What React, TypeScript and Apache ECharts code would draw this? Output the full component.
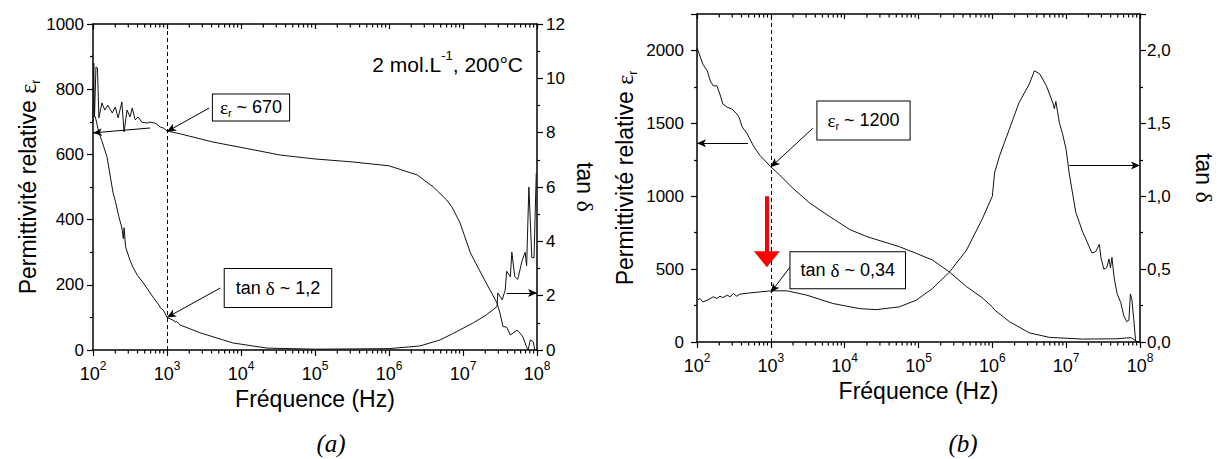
import React, { useEffect, useRef } from 'react';
import * as echarts from 'echarts';

// ---------- Panel (a): 2 mol.L-1, 200°C ----------
// frequency given as log10(f)
const aEpsExp = [2.00, 2.01, 2.02, 2.04, 2.06, 2.08, 2.12, 2.16, 2.20, 2.26, 2.30, 2.34, 2.39, 2.42, 2.46, 2.50, 2.53, 2.57, 2.61, 2.66, 2.73, 2.77, 2.84, 2.91, 2.95, 3.00, 3.18, 3.62, 4.08, 4.53, 5.00, 5.50, 6.00, 6.38, 6.60, 6.78, 6.85, 6.96, 7.10, 7.27, 7.46, 7.50, 7.54, 7.59, 7.64, 7.73, 7.77, 7.81, 7.86, 7.88, 7.91, 7.95, 7.97, 8.00];
const aEpsVal = [700, 880, 715, 868, 865, 712, 758, 736, 751, 727, 745, 712, 761, 669, 736, 715, 742, 706, 715, 699, 696, 699, 696, 684, 681, 672, 663, 638, 618, 598, 586, 577, 565, 537, 500, 460, 439, 390, 298, 224, 144, 113, 72, 70, 46, 61, 52, 40, 9, 0, 31, 25, 0, 0];

const aTanExp = [2.03, 2.08, 2.12, 2.19, 2.27, 2.30, 2.35, 2.39, 2.41, 2.42, 2.44, 2.50, 2.54, 2.60, 2.68, 2.81, 2.90, 2.91, 2.95, 3.00, 3.08, 3.12, 3.13, 3.18, 3.45, 3.89, 4.35, 5.00, 6.00, 6.42, 6.69, 6.86, 7.14, 7.32, 7.46, 7.47, 7.53, 7.57, 7.59, 7.64, 7.66, 7.70, 7.74, 7.80, 7.84, 7.86, 7.89, 7.93, 7.96, 7.99];
const aTanVal = [8.6, 8.0, 7.7, 7.1, 5.8, 5.5, 4.9, 4.5, 4.1, 4.5, 3.8, 3.3, 3.05, 2.75, 2.47, 1.95, 1.62, 1.55, 1.47, 1.2, 1.1, 1.02, 1.05, 0.92, 0.63, 0.26, 0.07, 0.03, 0.05, 0.15, 0.37, 0.6, 1.0, 1.3, 1.6, 2.1, 1.85, 2.2, 2.9, 2.7, 3.6, 2.7, 2.6, 3.3, 3.6, 3.1, 6.0, 3.4, 3.4, 6.5];

// ---------- Panel (b) ----------
const bEpsExp = [2.00, 2.04, 2.08, 2.14, 2.18, 2.22, 2.27, 2.31, 2.35, 2.41, 2.47, 2.54, 2.57, 2.61, 2.68, 2.76, 2.85, 3.00, 3.12, 3.30, 3.53, 3.76, 4.07, 4.30, 4.74, 4.97, 5.19, 5.42, 5.65, 5.86, 6.00, 6.03, 6.23, 6.50, 6.77, 7.22, 7.68, 7.88, 7.95, 8.00];
const bEpsVal = [2020, 1961, 1905, 1859, 1791, 1757, 1757, 1701, 1633, 1610, 1599, 1565, 1542, 1478, 1428, 1349, 1281, 1202, 1145, 1054, 952, 873, 771, 723, 654, 608, 562, 480, 380, 305, 240, 220, 140, 63, 32, 20, 22, 30, 5, 0];

const bTanExp = [2.00, 2.04, 2.08, 2.14, 2.22, 2.27, 2.31, 2.35, 2.41, 2.45, 2.49, 2.54, 2.58, 2.72, 3.00, 3.22, 3.49, 3.84, 4.20, 4.43, 4.74, 4.97, 5.19, 5.42, 5.65, 5.86, 6.00, 6.03, 6.10, 6.23, 6.36, 6.50, 6.57, 6.64, 6.73, 6.82, 6.84, 6.86, 6.88, 6.91, 6.95, 7.00, 7.04, 7.13, 7.22, 7.35, 7.40, 7.45, 7.47, 7.51, 7.55, 7.58, 7.60, 7.62, 7.65, 7.69, 7.74, 7.78, 7.82, 7.85, 7.87, 7.89, 7.92, 7.94, 7.96, 8.00];
const bTanVal = [0.287, 0.298, 0.275, 0.287, 0.31, 0.298, 0.314, 0.305, 0.321, 0.31, 0.333, 0.314, 0.328, 0.337, 0.351, 0.351, 0.321, 0.264, 0.229, 0.222, 0.241, 0.287, 0.367, 0.48, 0.63, 0.84, 1.0, 1.16, 1.28, 1.46, 1.64, 1.77, 1.86, 1.84, 1.76, 1.64, 1.6, 1.65, 1.59, 1.5, 1.43, 1.32, 1.16, 0.89, 0.76, 0.61, 0.62, 0.67, 0.58, 0.5, 0.51, 0.57, 0.51, 0.58, 0.44, 0.33, 0.27, 0.18, 0.14, 0.15, 0.33, 0.29, 0.13, 0.01, 0.0, 0.0];

// ---------- Axis ranges / ticks ----------
const freqMin = 1e2;
const freqMax = 1e8;
const aEpsRange = [0, 1000, 200];
const aTanRange = [0, 12, 2];
const bEpsRange = [0, 2250, 500];
const bTanRange = [0, 2.25, 0.5];
const decades = [2, 3, 4, 5, 6, 7];
const minorMultipliers = [2, 3, 4, 5, 6, 7, 8, 9];

// ---------- Annotations (data coordinates) ----------
const markFreq = 1000; // dashed line at 10^3
const aEpsNote = { text: '670', box: [13650, 744], from: [3700, 742], to: [1000, 670] };
const aTanNote = { text: '1,2', box: [31600, 2.28], from: [5250, 2.28], to: [1000, 1.2] };
const aEpsAxisArrow = [[590, 681], [100, 666]];
const aTanAxisArrow = [[3.9e7, 2.1], [1e8, 2.1]];
const bEpsNote = { text: '1200', box: [18000, 1520], from: [3700, 1466], to: [1000, 1200] };
const bTanNote = { text: '0,34', box: [11000, 0.493], from: [1820, 0.514], to: [1000, 0.34] };
const bEpsAxisArrow = [[490, 1363], [100, 1363]];
const bTanAxisArrow = [[1.1e7, 1.21], [1e8, 1.21]];
const redArrow = [[884, 1000], [884, 568]];

const SANS = '"Liberation Sans", Arial, Helvetica, sans-serif';
const SERIF = '"Liberation Serif", "Times New Roman", serif';

const toPts = (exp: number[], val: number[]) => exp.map((e, i) => [Math.pow(10, e), val[i]]);

const minorFreqs: number[] = [];
decades.forEach((d) => minorMultipliers.forEach((m) => minorFreqs.push(m * Math.pow(10, d))));

const axisLineStyle = { color: '#000', width: 1.5 };

const xRich = {
  b: { fontSize: 18, fontFamily: SANS, color: '#000', lineHeight: 23, verticalAlign: 'bottom' },
  s: { fontSize: 12, fontFamily: SANS, color: '#000', lineHeight: 12, verticalAlign: 'top' },
};

const makeXAxes = (grid: number) => [
  {
    type: 'log', logBase: 10, gridIndex: grid, min: freqMin, max: freqMax, position: 'bottom',
    axisLine: { show: true, onZero: false, lineStyle: axisLineStyle },
    axisTick: { show: true, inside: false, length: 6, lineStyle: { color: '#000', width: 1.2 } },
    axisLabel: {
      margin: 10,
      formatter: (v: number) => `{b|10}{s|${Math.round(Math.log10(v))}}`,
      rich: xRich,
    },
    splitLine: { show: false },
    name: 'Fréquence (Hz)', nameLocation: 'middle', nameGap: 36,
    nameTextStyle: { fontFamily: SANS, fontSize: 23, color: '#000' },
  },
  {
    type: 'log', logBase: 10, gridIndex: grid, min: freqMin, max: freqMax, position: 'top',
    axisLine: { show: true, onZero: false, lineStyle: axisLineStyle },
    axisTick: { show: true, inside: true, length: 5, lineStyle: { color: '#000', width: 1.2 } },
    axisLabel: { show: false },
    splitLine: { show: false },
  },
];

const epsName = '{t|Permittivité relative }{e|ε}{r|r}';
const epsNameRich = {
  t: { fontFamily: SANS, fontSize: 23, color: '#000', lineHeight: 28 },
  e: { fontFamily: SERIF, fontSize: 24, color: '#000', lineHeight: 28 },
  r: { fontFamily: SANS, fontSize: 12, color: '#000', lineHeight: 12, verticalAlign: 'bottom' },
};
const tanName = '{t|tan }{d|δ}';
const tanNameRich = {
  t: { fontFamily: SANS, fontSize: 23, color: '#000' },
  d: { fontFamily: SERIF, fontSize: 24, color: '#000' },
};

const makeYAxis = (grid: number, range: number[], pos: string, opts: any) => ({
  type: 'value', gridIndex: grid, min: range[0], max: range[1], interval: range[2], position: pos,
  axisLine: { show: true, onZero: false, lineStyle: axisLineStyle },
  axisTick: { show: true, inside: false, length: 6, lineStyle: { color: '#000', width: 1.2 } },
  minorTick: { show: true, splitNumber: 2, length: 3, lineStyle: { color: '#000', width: 1.2 } },
  splitLine: { show: false },
  axisLabel: {
    fontFamily: SANS, fontSize: 17, color: '#000', margin: opts.margin, showMaxLabel: opts.showMax,
    formatter: opts.formatter || ((v: number) => String(v)),
  },
  name: opts.name, nameLocation: 'middle', nameGap: opts.nameGap, nameRotate: opts.nameRotate,
  nameTextStyle: { rich: opts.rich },
});

const noteLabelRich = {
  e: { fontFamily: SERIF, fontSize: 19, color: '#000', lineHeight: 22 },
  r: { fontFamily: SANS, fontSize: 11, color: '#000', lineHeight: 11, verticalAlign: 'bottom' },
  t: { fontFamily: SANS, fontSize: 18, color: '#000', lineHeight: 22 },
  d: { fontFamily: SERIF, fontSize: 19, color: '#000', lineHeight: 22 },
};

const boxPoint = (coord: number[], text: string, padding: number[]) => ({
  coord,
  value: 0,
  label: {
    show: true, position: 'inside',
    formatter: () => text,
    rich: noteLabelRich,
    backgroundColor: '#fff', borderColor: '#000', borderWidth: 1, padding,
  },
});

const arrowLine = (from: number[], to: number[], size: number[] = [6, 9], color = '#000', width = 1, symbol = 'arrow') => [
  { coord: from, symbol: 'none', lineStyle: { color, width, type: 'solid' } },
  { coord: to, symbol, symbolSize: size },
];

const markLineBase = {
  silent: true, animation: false,
  symbol: ['none', 'none'],
  label: { show: false },
  emphasis: { disabled: true },
  lineStyle: { color: '#000', width: 1, type: 'solid' },
};

const dashed = { xAxis: markFreq, lineStyle: { color: '#000', width: 1, type: [4, 3] } };

const lineSeries = (name: string, xi: number, yi: number, pts: number[][], markLine: any, markPoint: any) => ({
  type: 'line', name, xAxisIndex: xi, yAxisIndex: yi, data: pts,
  showSymbol: false, symbol: 'none', silent: true,
  lineStyle: { color: '#111', width: 1 },
  markLine: markLine ? { ...markLineBase, data: markLine } : undefined,
  markPoint: markPoint ? {
    silent: true, symbol: 'rect', symbolSize: 1, itemStyle: { color: 'rgba(0,0,0,0)' }, data: markPoint,
  } : undefined,
});

const minorTickSeries = (xi: number, yi: number, yMin: number, yMax: number) => ({
  type: 'custom', xAxisIndex: xi, yAxisIndex: yi, silent: true, clip: false,
  data: minorFreqs.map((f) => [f, yMin]),
  encode: { x: 0, y: 1 },
  renderItem: (_p: any, api: any) => {
    const f = api.value(0);
    const b = api.coord([f, yMin]);
    const t = api.coord([f, yMax]);
    const st = { stroke: '#000', lineWidth: 1.2 };
    return {
      type: 'group',
      children: [
        { type: 'line', shape: { x1: b[0], y1: b[1], x2: b[0], y2: b[1] + 3.5 }, style: st },
        { type: 'line', shape: { x1: t[0], y1: t[1], x2: t[0], y2: t[1] + 3.5 }, style: st },
      ],
    };
  },
});

const epsText = (v: string) => `{e|ε}{r|r}{t| ~ ${v}}`;
const tanText = (v: string) => `{t|tan }{d|δ}{t| ~ ${v}}`;

export default function App() {
  const ref = useRef<HTMLDivElement>(null);
  useEffect(() => {
    if (!ref.current) return;
    const chart = echarts.init(ref.current, undefined, { renderer: 'svg' });
    const option: any = {
      animation: false,
      backgroundColor: '#fff',
      textStyle: { fontFamily: SANS },
      grid: [
        { left: 93, top: 24, width: 444, height: 326 },
        { left: 697, top: 14, width: 443, height: 328 },
      ],
      xAxis: [...makeXAxes(0), ...makeXAxes(1)],
      yAxis: [
        makeYAxis(0, aEpsRange, 'left', { margin: 9, showMax: true, name: epsName, nameGap: 48, nameRotate: 90, rich: epsNameRich }),
        makeYAxis(0, aTanRange, 'right', { margin: 9, showMax: true, name: tanName, nameGap: 36, nameRotate: -90, rich: tanNameRich }),
        makeYAxis(1, bEpsRange, 'left', { margin: 13, showMax: false, name: epsName, nameGap: 58, nameRotate: 90, rich: epsNameRich }),
        makeYAxis(1, bTanRange, 'right', {
          margin: 7, showMax: false, name: tanName, nameGap: 52, nameRotate: -90, rich: tanNameRich,
          formatter: (v: number) => v.toFixed(1).replace('.', ','),
        }),
      ],
      series: [
        lineSeries('aEps', 0, 0, toPts(aEpsExp, aEpsVal),
          [dashed, arrowLine(aEpsNote.from, aEpsNote.to), arrowLine(aEpsAxisArrow[0], aEpsAxisArrow[1])],
          [boxPoint(aEpsNote.box, epsText(aEpsNote.text), [2, 7, 2, 7])]),
        lineSeries('aTan', 0, 1, toPts(aTanExp, aTanVal),
          [arrowLine(aTanNote.from, aTanNote.to), arrowLine(aTanAxisArrow[0], aTanAxisArrow[1])],
          [boxPoint(aTanNote.box, tanText(aTanNote.text), [8, 11, 8, 11])]),
        lineSeries('bEps', 2, 2, toPts(bEpsExp, bEpsVal),
          [dashed, arrowLine(bEpsNote.from, bEpsNote.to), arrowLine(bEpsAxisArrow[0], bEpsAxisArrow[1]),
            arrowLine(redArrow[0], redArrow[1], [26, 16], '#ff0000', 4, 'triangle')],
          [boxPoint(bEpsNote.box, epsText(bEpsNote.text), [8, 10, 8, 10])]),
        lineSeries('bTan', 2, 3, toPts(bTanExp, bTanVal),
          [arrowLine(bTanNote.from, bTanNote.to), arrowLine(bTanAxisArrow[0], bTanAxisArrow[1])],
          [boxPoint(bTanNote.box, tanText(bTanNote.text), [7, 10, 7, 10])]),
        minorTickSeries(0, 0, aEpsRange[0], aEpsRange[1]),
        minorTickSeries(2, 2, bEpsRange[0], bEpsRange[1]),
      ],
      graphic: [
        {
          type: 'text', x: 523, y: 62, silent: true,
          style: {
            text: '{m|2 mol.L}{p|-1}{m|, 200°C}',
            rich: {
              m: { fontFamily: SANS, fontSize: 21, fill: '#000', lineHeight: 26, verticalAlign: 'bottom' },
              p: { fontFamily: SANS, fontSize: 13, fill: '#000', lineHeight: 13, verticalAlign: 'top' },
            },
            align: 'right', verticalAlign: 'middle', textAlign: 'right', textVerticalAlign: 'middle', fill: '#000',
          },
        },
        {
          type: 'text', x: 331, y: 443, silent: true,
          style: { text: '(a)', font: `italic 25px ${SERIF}`, fill: '#000', align: 'center', verticalAlign: 'middle', textAlign: 'center', textVerticalAlign: 'middle' },
        },
        {
          type: 'text', x: 963, y: 443, silent: true,
          style: { text: '(b)', font: `italic 25px ${SERIF}`, fill: '#000', align: 'center', verticalAlign: 'middle', textAlign: 'center', textVerticalAlign: 'middle' },
        },
      ],
    };
    chart.setOption(option);
    return () => chart.dispose();
  }, []);
  return <div ref={ref} style={{ position: 'fixed', left: 0, top: 0, width: 1220, height: 459, background: '#fff' }} />;
}
